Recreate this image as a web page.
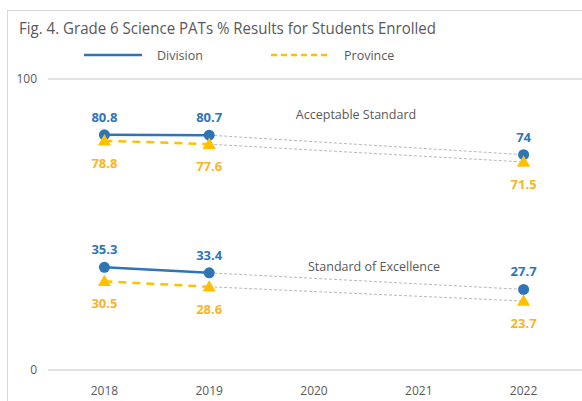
<!DOCTYPE html>
<html>
<head>
<meta charset="utf-8">
<script src="https://cdn.jsdelivr.net/npm/d3@7"></script>
<style>
  body { margin: 0; background: #fff; }
  svg { display: block; font-family: "Open Sans", sans-serif; }
</style>
</head>
<body>
<div id="chart"></div>
<script>
const width = 582;
const height = 401;
const margin = { left: 52, right: 6, top: 79, bottom: 31 };

const years = ["2018", "2019", "2020", "2021", "2022"];
const divisionAcceptable = [80.8, 80.7, null, null, 74];
const provinceAcceptable = [78.8, 77.6, null, null, 71.5];
const divisionExcellence = [35.3, 33.4, null, null, 27.7];
const provinceExcellence = [30.5, 28.6, null, null, 23.7];
const yTicks = [0, 100];

const blue = "#2e75b6";
const gold = "#ffc000";
const goldText = "#f7b52a";
const grey = "#595959";

const svg = d3
  .select("#chart")
  .append("svg")
  .attr("width", width)
  .attr("height", height);

// chart frame
svg
  .append("rect")
  .attr("x", 7.5)
  .attr("y", 10.5)
  .attr("width", width)
  .attr("height", height)
  .attr("fill", "none")
  .attr("stroke", "#d9d9d9");

svg
  .append("text")
  .attr("x", 19)
  .attr("y", 34)
  .attr("fill", grey)
  .style("font-size", "17px")
  .attr("textLength", 417)
  .attr("lengthAdjust", "spacingAndGlyphs")
  .text("Fig. 4. Grade 6 Science PATs % Results for Students Enrolled");

const x = d3
  .scalePoint()
  .domain(years)
  .range([margin.left, width - margin.right])
  .padding(0.5);

const y = d3
  .scaleLinear()
  .domain([0, 100])
  .range([height - margin.bottom, margin.top]);

// gridlines
svg
  .selectAll(".grid")
  .data(yTicks)
  .join("line")
  .attr("class", "grid")
  .attr("x1", 48)
  .attr("x2", width)
  .attr("y1", (d) => y(d))
  .attr("y2", (d) => y(d))
  .attr("stroke", "#d9d9d9")
  .attr("stroke-width", 1.5);

svg
  .selectAll(".ytick")
  .data(yTicks)
  .join("text")
  .attr("class", "ytick")
  .attr("x", 37)
  .attr("y", (d) => y(d) + 4)
  .attr("text-anchor", "end")
  .attr("fill", grey)
  .style("font-size", "12px")
  .text((d) => d);

svg
  .selectAll(".xtick")
  .data(years)
  .join("text")
  .attr("class", "xtick")
  .attr("x", (d) => x(d))
  .attr("y", height - 6)
  .attr("text-anchor", "middle")
  .attr("fill", grey)
  .style("font-size", "12px")
  .text((d) => d);

// legend
const legend = [
  { name: "Division", color: blue, dash: null, x: 84 },
  { name: "Province", color: gold, dash: "6,4", x: 271 },
];
const legendG = svg
  .selectAll(".legend")
  .data(legend)
  .join("g")
  .attr("class", "legend")
  .attr("transform", (d) => `translate(${d.x}, 55)`);
legendG
  .append("line")
  .attr("x1", 0)
  .attr("x2", 58)
  .attr("stroke", (d) => d.color)
  .attr("stroke-width", 2.5)
  .attr("stroke-dasharray", (d) => d.dash);
legendG
  .append("text")
  .attr("x", 73)
  .attr("y", 5)
  .attr("fill", grey)
  .style("font-size", "12.5px")
  .text((d) => d.name);

const series = [
  { values: divisionAcceptable, color: blue, dash: null, marker: "circle", above: true },
  { values: provinceAcceptable, color: gold, dash: "8,6", marker: "triangle", above: false },
  { values: divisionExcellence, color: blue, dash: null, marker: "circle", above: true },
  { values: provinceExcellence, color: gold, dash: "8,6", marker: "triangle", above: false },
];

const line = d3
  .line()
  .defined((d) => d.v != null)
  .x((d) => x(d.year))
  .y((d) => y(d.v));

series.forEach((s) => {
  const pts = years.map((year, i) => ({ year, v: s.values[i] }));
  const known = pts.filter((d) => d.v != null);

  // dotted gap connector
  svg
    .append("line")
    .attr("x1", x(known[1].year))
    .attr("y1", y(known[1].v))
    .attr("x2", x(known[2].year))
    .attr("y2", y(known[2].v))
    .attr("stroke", "#a6a6a6")
    .attr("stroke-width", 0.8)
    .attr("stroke-dasharray", "3,2");

  svg
    .append("path")
    .datum(pts)
    .attr("d", line)
    .attr("fill", "none")
    .attr("stroke", s.color)
    .attr("stroke-width", 2.5)
    .attr("stroke-dasharray", s.dash);

  if (s.marker === "circle") {
    svg
      .selectAll(null)
      .data(known)
      .join("circle")
      .attr("cx", (d) => x(d.year))
      .attr("cy", (d) => y(d.v))
      .attr("r", 5.5)
      .attr("fill", s.color);
  } else {
    svg
      .selectAll(null)
      .data(known)
      .join("path")
      .attr("d", d3.symbol(d3.symbolTriangle, 75))
      .attr("transform", (d) => `translate(${x(d.year)}, ${y(d.v) + 1})`)
      .attr("fill", s.color);
  }

  svg
    .selectAll(null)
    .data(known)
    .join("text")
    .attr("x", (d) => x(d.year))
    .attr("y", (d) => y(d.v) + (s.above ? -13 : 27))
    .attr("text-anchor", "middle")
    .attr("fill", s.above ? blue : goldText)
    .style("font-size", "13px")
    .style("font-weight", "bold")
    .text((d) => d.v);
});

const notes = [
  { text: "Acceptable Standard", year: "2020", v: 86.3, dx: 42 },
  { text: "Standard of Excellence", year: "2020", v: 34, dx: 60 },
];
svg
  .selectAll(".note")
  .data(notes)
  .join("text")
  .attr("class", "note")
  .attr("x", (d) => x(d.year) + d.dx)
  .attr("y", (d) => y(d.v))
  .attr("text-anchor", "middle")
  .attr("fill", grey)
  .style("font-size", "12.5px")
  .text((d) => d.text);
</script>
</body>
</html>
